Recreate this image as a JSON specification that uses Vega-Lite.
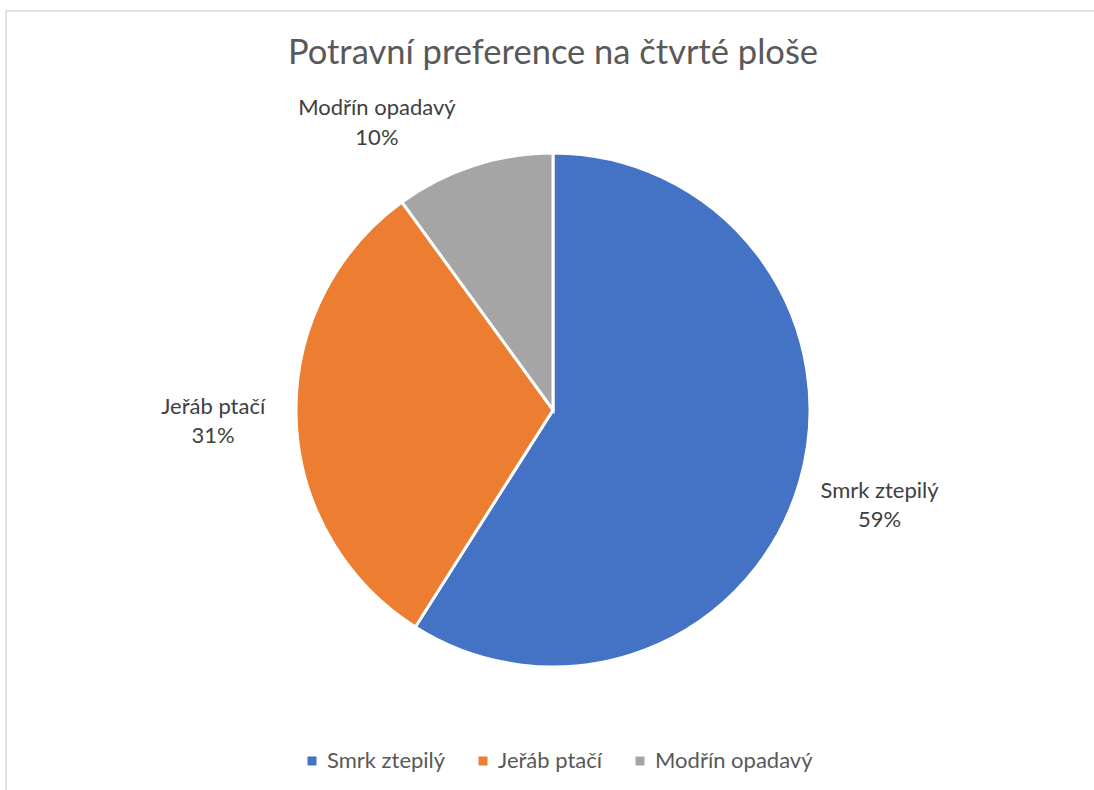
{
  "$schema": "https://vega.github.io/schema/vega-lite/v6.json",
  "autosize": {"type": "none"},
  "width": 1094,
  "height": 798,
  "padding": {"left": 6, "top": 11, "right": 0, "bottom": 0},
  "background": "white",
  "view": {"stroke": "#d9d9d9", "strokeWidth": 1.5},
  "config": {
    "view": {"stroke": "#d9d9d9", "strokeWidth": 1.5},
    "font": "Lato"
  },
  "title": {
    "text": "Potravní preference na čtvrté ploše",
    "orient": "top",
    "anchor": "middle",
    "frame": "group",
    "offset": -52,
    "dy": 35,
    "baseline": "alphabetic",
    "font": "Lato",
    "fontSize": 34.5,
    "fontWeight": "normal",
    "color": "#595959"
  },
  "data": {
    "values": [
      {"druh": "Smrk ztepilý", "podil": 0.59, "i": 1},
      {"druh": "Jeřáb ptačí", "podil": 0.31, "i": 2},
      {"druh": "Modřín opadavý", "podil": 0.10, "i": 3}
    ]
  },
  "encoding": {
    "theta": {"field": "podil", "type": "quantitative", "stack": true},
    "order": {"field": "i", "type": "quantitative"}
  },
  "layer": [
    {
      "mark": {"type": "arc", "outerRadius": 257, "stroke": "white", "strokeWidth": 3},
      "encoding": {
        "color": {
          "field": "druh",
          "type": "nominal",
          "scale": {
            "domain": ["Smrk ztepilý", "Jeřáb ptačí", "Modřín opadavý"],
            "range": ["#4472C4", "#ED7D31", "#A5A5A5"]
          },
          "legend": {
            "title": null,
            "orient": "none",
            "direction": "horizontal",
            "legendX": 295,
            "legendY": 739,
            "padding": 0,
            "symbolType": "square",
            "symbolSize": 81,
            "symbolStrokeWidth": 0,
            "labelFont": "Lato",
            "labelFontSize": 22,
            "labelColor": "#595959",
            "labelOffset": 4,
            "columnPadding": 26
          }
        }
      }
    },
    {
      "mark": {"type": "text", "radius": 340, "dy": -14, "font": "Lato", "fontSize": 22, "color": "#404040", "baseline": "middle"},
      "encoding": {
        "text": {"condition": {"test": "datum.druh !== 'Modřín opadavý'", "field": "druh"}, "value": ""},
        "detail": {"field": "druh"}
      }
    },
    {
      "mark": {"type": "text", "radius": 340, "dy": 15, "font": "Lato", "fontSize": 22, "color": "#404040", "baseline": "middle"},
      "encoding": {
        "text": {"condition": {"test": "datum.druh !== 'Modřín opadavý'", "field": "podil", "format": ".0%"}, "value": ""},
        "detail": {"field": "druh"}
      }
    },
    {
      "mark": {"type": "text", "radius": 340, "dx": -71, "dy": 21, "font": "Lato", "fontSize": 22, "color": "#404040", "baseline": "middle"},
      "encoding": {
        "text": {"condition": {"test": "datum.druh === 'Modřín opadavý'", "field": "druh"}, "value": ""},
        "detail": {"field": "druh"}
      }
    },
    {
      "mark": {"type": "text", "radius": 340, "dx": -71, "dy": 51, "font": "Lato", "fontSize": 22, "color": "#404040", "baseline": "middle"},
      "encoding": {
        "text": {"condition": {"test": "datum.druh === 'Modřín opadavý'", "field": "podil", "format": ".0%"}, "value": ""},
        "detail": {"field": "druh"}
      }
    }
  ]
}
